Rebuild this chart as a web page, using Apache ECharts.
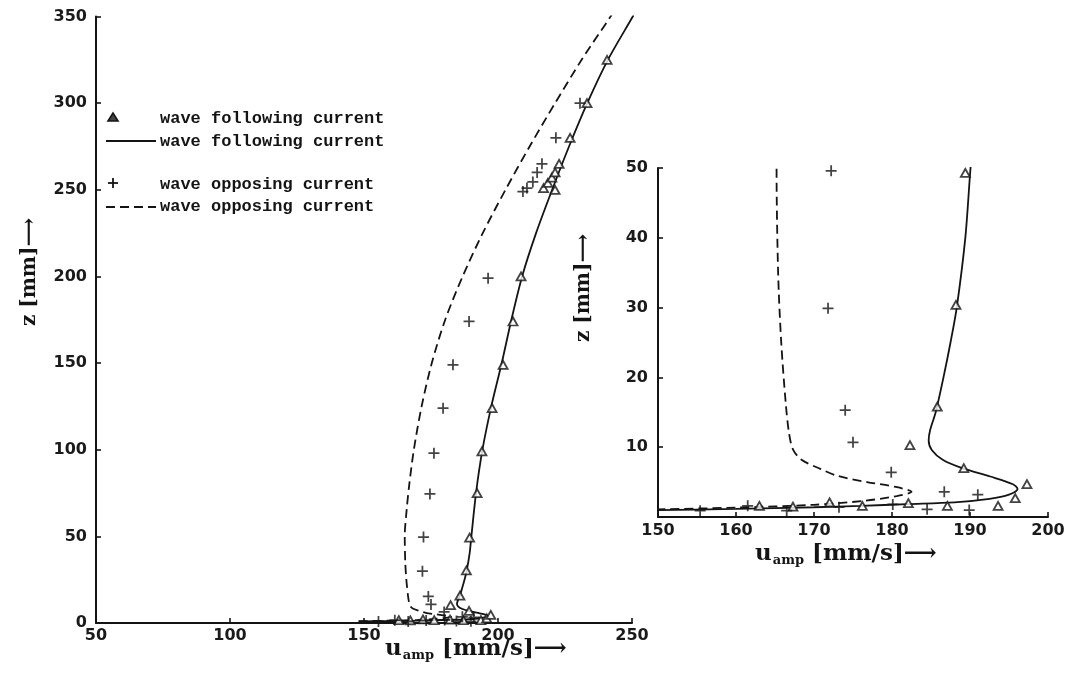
<!DOCTYPE html>
<html>
<head>
<meta charset="utf-8">
<title>Velocity amplitude profiles</title>
<script src="https://cdn.jsdelivr.net/npm/echarts@6/dist/echarts.min.js"></script>
<style>
  html, body { margin: 0; padding: 0; background: #fff; }
  #chart { width: 1068px; height: 675px; }
</style>
</head>
<body>
<div id="chart"></div>
<script>
// Measured amplitudes [u_amp (mm/s), z (mm)] — wave following current (triangles)
var followingMeasured = [
  [163.0, 1.6], [167.3, 1.5], [172.0, 2.1], [176.2, 1.6], [182.1, 2.0],
  [187.1, 1.6], [193.6, 1.6], [195.8, 2.7], [197.3, 4.7], [189.2, 7.0],
  [182.3, 10.3], [185.8, 15.8], [188.2, 30.4], [189.4, 49.3], [192.2, 75],
  [194.0, 99], [197.8, 124], [201.9, 149], [205.6, 174], [208.6, 200],
  [221.3, 250], [217.0, 251], [218.6, 254], [220.1, 257], [221.3, 260],
  [222.8, 265], [226.9, 280], [233.2, 300], [240.7, 325]
];

// Measured amplitudes — wave opposing current (crosses)
var opposingMeasured = [
  [155.4, 0.9], [161.5, 1.6], [166.5, 0.9], [173.2, 1.4], [180.1, 1.8],
  [184.5, 1.1], [186.7, 3.6], [189.9, 1.0], [191.0, 3.2], [179.9, 6.4],
  [175.0, 10.7], [174.0, 15.3], [171.8, 29.9], [172.2, 49.6], [174.6, 74.5],
  [176.1, 98], [179.5, 124], [183.2, 149], [189.2, 174], [196.3, 199],
  [209.3, 249], [210.8, 251], [213.0, 254.5], [214.6, 260], [216.4, 265],
  [221.6, 280], [230.6, 300]
];

// Computed profile — wave following current (solid line)
var followingComputed = [
  [148, 0.95], [160, 1.15], [170, 1.4], [176, 1.6], [182, 1.85], [188, 2.1],
  [192.5, 2.6], [195, 3.2], [196.1, 4.0], [195.5, 4.7], [192.6, 5.8],
  [189, 7.0], [186.5, 8.2], [185.1, 9.6], [184.7, 11], [184.9, 12.5],
  [185.6, 15], [186.6, 20], [187.5, 25], [188.3, 30], [189.4, 40],
  [190, 49], [191.8, 75], [194.2, 100], [197.5, 125], [201.4, 150],
  [205.0, 175], [209.0, 200], [214.2, 225], [220.2, 250], [226.5, 275],
  [233.3, 300], [241.0, 325], [250.3, 350], [251, 352]
];

// Computed profile — wave opposing current (dashed line)
var opposingComputed = [
  [148, 1.05], [160, 1.35], [170, 1.75], [176.3, 2.3], [180.6, 3.0],
  [182.5, 3.6], [180.5, 4.3], [176.8, 5.0], [173, 5.9], [170.8, 6.9],
  [168.4, 8.2], [167.3, 9.7], [166.8, 12], [166.4, 16], [165.8, 25],
  [165.4, 35], [165.2, 50], [165.9, 65], [166.9, 80], [168.6, 100],
  [171.5, 125], [175.3, 150], [180.3, 175], [186.8, 200], [194.3, 225],
  [202.8, 250], [211.8, 275], [221.3, 300], [231.2, 325], [242.0, 350],
  [242.7, 352]
];

// Legend labels
var legendLabels = [
  'wave following current',
  'wave following current',
  'wave opposing current',
  'wave opposing current'
];

var INK = '#141414';
var tickFont = { fontFamily: 'DejaVu Sans', fontWeight: 'bold', fontSize: 16, color: '#1a1a1a' };
var titleFont = 'DejaVu Serif';
var plusPath = 'path://M4.2,0H5.8V4.2H10V5.8H5.8V10H4.2V5.8H0V4.2H4.2Z';

function axisCommon() {
  return {
    type: 'value',
    splitLine: { show: false },
    axisLine: { show: true, lineStyle: { color: INK, width: 2 } },
    axisTick: { show: true, inside: true, length: 5, lineStyle: { color: INK, width: 1.6 } }
  };
}

function seriesFor(idx) {
  return [
    {
      type: 'line', xAxisIndex: idx, yAxisIndex: idx,
      data: followingComputed, smooth: 0.3, showSymbol: false, clip: true,
      lineStyle: { color: INK, width: 1.8 }, silent: true, z: 2
    },
    {
      type: 'line', xAxisIndex: idx, yAxisIndex: idx,
      data: opposingComputed, smooth: 0.3, showSymbol: false, clip: true,
      lineStyle: { color: INK, width: 1.8, type: [9, 5] }, silent: true, z: 2
    },
    {
      type: 'scatter', xAxisIndex: idx, yAxisIndex: idx,
      data: followingMeasured, symbol: 'triangle', symbolSize: [9, 8], clip: true,
      itemStyle: { color: '#ffffff', borderColor: INK, borderWidth: 1.8 }, z: 3
    },
    {
      type: 'scatter', xAxisIndex: idx, yAxisIndex: idx,
      data: opposingMeasured, symbol: plusPath, symbolSize: 11, clip: true,
      itemStyle: { color: INK }, z: 3
    }
  ];
}

function uampTitle(x, y) {
  return {
    type: 'text', x: x, y: y,
    style: {
      text: '{u|u}{s|amp}{u| [mm/s]⟶}',
      textVerticalAlign: 'middle',
      rich: {
        u: { fontFamily: titleFont, fontWeight: 'bold', fontSize: 23, fill: INK, verticalAlign: 'top' },
        s: { fontFamily: titleFont, fontWeight: 'bold', fontSize: 13, fill: INK, verticalAlign: 'top', padding: [12, 0, 0, 1] }
      }
    }
  };
}

function zTitle(x, y) {
  return {
    type: 'text', x: x, y: y, rotation: Math.PI / 2,
    style: {
      text: 'z [mm]⟶',
      fontFamily: titleFont, fontWeight: 'bold', fontSize: 20, fill: INK,
      textAlign: 'center', textVerticalAlign: 'middle'
    }
  };
}

var legendFont = { fontFamily: 'Liberation Mono', fontWeight: 'bold', fontSize: 17, fill: INK, textVerticalAlign: 'middle' };
function legendText(i, y) {
  return { type: 'text', x: 160, y: y, style: Object.assign({ text: legendLabels[i] }, legendFont) };
}

var chart = echarts.init(document.getElementById('chart'), null, { renderer: 'canvas' });

chart.setOption({
  backgroundColor: '#ffffff',
  animation: false,
  grid: [
    { left: 96, right: 436, top: 16.5, bottom: 52 },
    { left: 658, right: 20, top: 168, bottom: 158 }
  ],
  xAxis: [
    Object.assign(axisCommon(), {
      gridIndex: 0, min: 50, max: 250, interval: 50,
      axisLabel: Object.assign({ margin: 5 }, tickFont)
    }),
    Object.assign(axisCommon(), {
      gridIndex: 1, min: 150, max: 200, interval: 10,
      axisLabel: Object.assign({ margin: 6 }, tickFont)
    })
  ],
  yAxis: [
    Object.assign(axisCommon(), {
      gridIndex: 0, min: 0, max: 350, interval: 50,
      axisLabel: Object.assign({ margin: 9 }, tickFont)
    }),
    Object.assign(axisCommon(), {
      gridIndex: 1, min: 0, max: 50, interval: 10,
      axisLabel: Object.assign({ margin: 10, showMinLabel: false }, tickFont)
    })
  ],
  series: seriesFor(0).concat(seriesFor(1)),
  graphic: [
    // axis titles
    uampTitle(385, 650),
    uampTitle(755, 555),
    zTitle(30, 272),
    zTitle(584, 288),
    // legend
    { type: 'polygon', shape: { points: [[108, 121], [118, 121], [113, 113]] },
      style: { fill: '#444', stroke: INK, lineWidth: 1.6 } },
    legendText(0, 119),
    { type: 'line', shape: { x1: 106, y1: 141, x2: 156, y2: 141 },
      style: { stroke: INK, lineWidth: 1.8 } },
    legendText(1, 142),
    { type: 'line', shape: { x1: 108, y1: 183, x2: 118, y2: 183 }, style: { stroke: INK, lineWidth: 1.8 } },
    { type: 'line', shape: { x1: 113, y1: 178, x2: 113, y2: 188 }, style: { stroke: INK, lineWidth: 1.8 } },
    legendText(2, 185),
    { type: 'line', shape: { x1: 106, y1: 207, x2: 156, y2: 207 },
      style: { stroke: INK, lineWidth: 1.8, lineDash: [9, 5] } },
    legendText(3, 207)
  ]
});
</script>
</body>
</html>
